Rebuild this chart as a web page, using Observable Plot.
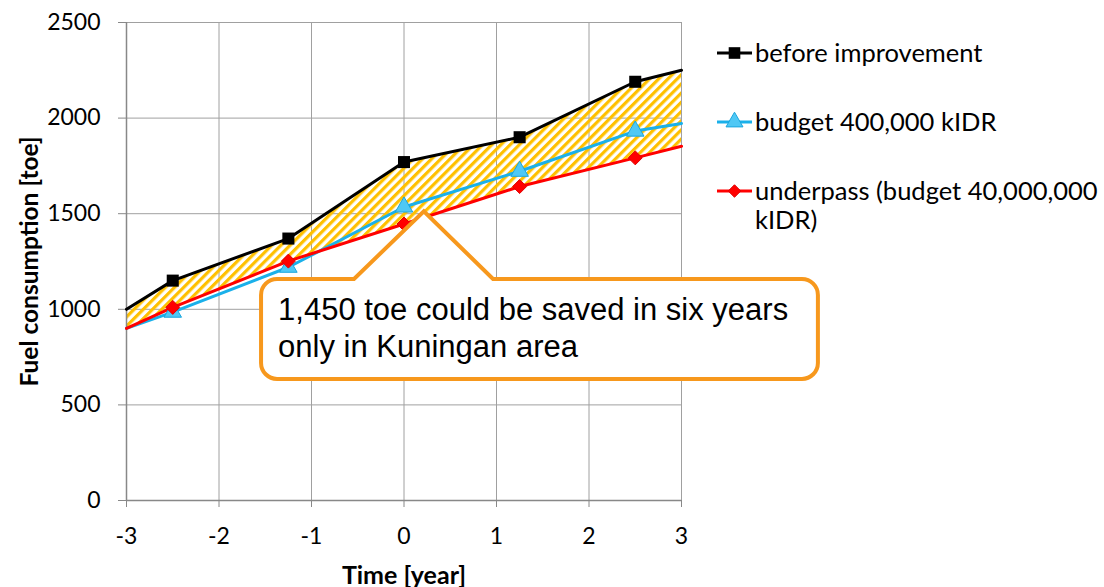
<!DOCTYPE html>
<html><head><meta charset="utf-8">
<script src="https://cdn.jsdelivr.net/npm/d3@7"></script>
<script src="https://cdn.jsdelivr.net/npm/@observablehq/plot@0.6"></script>
<style>
body{margin:0;background:#fff;}
#chart{width:1104px;height:587px;}
</style></head><body><div id="chart"></div>
<script>
// ---- data ----
const years = [-3, -2.5, -1.25, 0, 1.25, 2.5, 3];
const beforeImprovement = [1000, 1150, 1370, 1770, 1900, 2190, 2250];
const budget400k = [900, 985, 1220, 1535, 1722, 1932, 1972];
const underpass = [900, 1010, 1252, 1446, 1642, 1792, 1853];
const xTicks = [-3, -2, -1, 0, 1, 2, 3];
const yTicks = [0, 500, 1000, 1500, 2000, 2500];
const seriesNames = ["before improvement", "budget 400,000 kIDR", "underpass (budget 40,000,000", "kIDR)"];
const xTitle = "Time [year]";
const yTitle = "Fuel consumption [toe]";
const calloutText = ["1,450 toe could be saved in six years", "only in Kuningan area"];
// callout anchor (data units)
const calloutTip = [0.22, 1510];
const calloutBox = [-1.54, 4.48, 1156, 633];   // x0, x1, yTop, yBottom
const calloutBase = [-0.535, 0.968];

const colors = {before: "#000000", budget: "#1AB0EA", under: "#FF0000", hatch: "#FFC000", callout: "#F7981D"};

const rows = years.map((x, i) => ({x, before: beforeImprovement[i], budget: budget400k[i], under: underpass[i]}));
const inner = rows.slice(1, -1);

const defs = () => {
  const d = d3.create("svg:defs");
  const p = d.append("pattern").attr("id", "hatch").attr("patternUnits", "userSpaceOnUse")
    .attr("width", 6.5).attr("height", 6.5).attr("patternTransform", "rotate(45)");
  p.append("rect").attr("width", 3.2).attr("height", 6.5).attr("fill", colors.hatch);
  return d.node();
};

const chart = Plot.plot({
  width: 1104, height: 587,
  marginLeft: 126, marginRight: 423, marginTop: 22, marginBottom: 87,
  style: {fontFamily: "Lato", fontSize: "23px", color: "#000", background: "#fff", overflow: "visible"},
  x: {domain: [-3, 3], label: null},
  y: {domain: [0, 2500], label: null},
  marks: [
    defs,
    Plot.gridX(xTicks, {stroke: "#a0a0a0", strokeOpacity: 1, strokeWidth: 1}),
    Plot.gridY(yTicks, {stroke: "#a0a0a0", strokeOpacity: 1, strokeWidth: 1}),
    Plot.areaY(rows, {x: "x", y1: "under", y2: "before", fill: "url(#hatch)"}),
    Plot.ruleX([-3], {stroke: "#888", strokeWidth: 1.5}),
    Plot.ruleY([0], {stroke: "#888", strokeWidth: 1.5}),
    Plot.axisX(xTicks, {tickSize: 7, tickPadding: 20, stroke: "#888", fill: "#000", fontSize: 23, tickFormat: d => d < 0 ? "-" + Math.abs(d) : String(d)}),
    Plot.axisY(yTicks, {tickSize: 8, tickPadding: 18, stroke: "#888", fill: "#000", fontSize: 23, tickFormat: d => String(d)}),
    Plot.text([xTitle], {frameAnchor: "bottom", dy: 75, textAnchor: "middle", lineAnchor: "middle", fontWeight: "bold", fontSize: 25, fill: "#000"}),
    Plot.text([yTitle], {frameAnchor: "left", dx: -96, rotate: -90, textAnchor: "middle", lineAnchor: "middle", fontWeight: "bold", fontSize: 24.5, fill: "#000"}),
    Plot.lineY(rows, {x: "x", y: "before", stroke: colors.before, strokeWidth: 3}),
    Plot.lineY(rows, {x: "x", y: "budget", stroke: colors.budget, strokeWidth: 3}),
    Plot.lineY(rows, {x: "x", y: "under", stroke: colors.under, strokeWidth: 3}),
    Plot.dot(inner, {x: "x", y: "before", symbol: "square", fill: "#000", r: 6.8}),
    Plot.dot(inner, {x: "x", y: "budget", symbol: "triangle", fill: "#4FC8F5", stroke: "#1AA6DE", strokeWidth: 1, r: 6.5}),
    Plot.dot(inner, {x: "x", y: "under", symbol: "diamond2", fill: "#FF0000", stroke: "#E00000", strokeWidth: 1, r: 6.3})
  ]
});
document.getElementById("chart").appendChild(chart);

// ---- callout & legend ----
const sx = chart.scale("x").apply, sy = chart.scale("y").apply;
const svg = d3.select(chart);
{
  const L = sx(calloutBox[0]), R = sx(calloutBox[1]), T = sy(calloutBox[2]), B = sy(calloutBox[3]), r = 16;
  const b1 = sx(calloutBase[0]), b2 = sx(calloutBase[1]);
  const tx = sx(calloutTip[0]), ty = sy(calloutTip[1]);
  const path = `M${L + r},${T} L${b1},${T} L${tx},${ty} L${b2},${T} L${R - r},${T} A${r},${r} 0 0 1 ${R},${T + r} L${R},${B - r} A${r},${r} 0 0 1 ${R - r},${B} L${L + r},${B} A${r},${r} 0 0 1 ${L},${B - r} L${L},${T + r} A${r},${r} 0 0 1 ${L + r},${T} Z`;
  const g = svg.append("g");
  g.append("path").attr("d", path).attr("fill", "#fff").attr("stroke", colors.callout).attr("stroke-width", 4).attr("stroke-linejoin", "miter");
  const t = g.append("text").attr("text-anchor", "start").attr("font-family", "'Liberation Sans', Arial, sans-serif").attr("font-size", 31).attr("fill", "#000");
  calloutText.forEach((s, i) => t.append("tspan").attr("x", L + 17).attr("y", T + 41 + i * 37).text(s));
}
{
  const lg = svg.append("g").attr("text-anchor", "start").attr("font-family", "Lato").attr("font-size", 25.5).attr("fill", "#000");
  const items = [
    {c: colors.before, sym: d3.symbolSquare, fill: "#000", stroke: "none", size: 135, y: 53, label: [seriesNames[0]]},
    {c: colors.budget, sym: d3.symbolTriangle, fill: "#4FC8F5", stroke: "#1AA6DE", size: 125, y: 122, label: [seriesNames[1]]},
    {c: colors.under, sym: d3.symbolDiamond2 || d3.symbolSquare, fill: "#FF0000", stroke: "#E00000", size: 100, y: 191, label: [seriesNames[2], seriesNames[3]]}
  ];
  items.forEach(it => {
    lg.append("line").attr("x1", 717).attr("x2", 752).attr("y1", it.y).attr("y2", it.y).attr("stroke", it.c).attr("stroke-width", 3);
    lg.append("path").attr("d", d3.symbol(it.sym, it.size)()).attr("transform", `translate(734.5,${it.y})`)
      .attr("fill", it.fill).attr("stroke", it.stroke);
    it.label.forEach((s, i) => lg.append("text").attr("text-anchor", "start").attr("x", 755).attr("y", it.y + i * 29).attr("dy", "0.35em").text(s));
  });
}
</script></body></html>
